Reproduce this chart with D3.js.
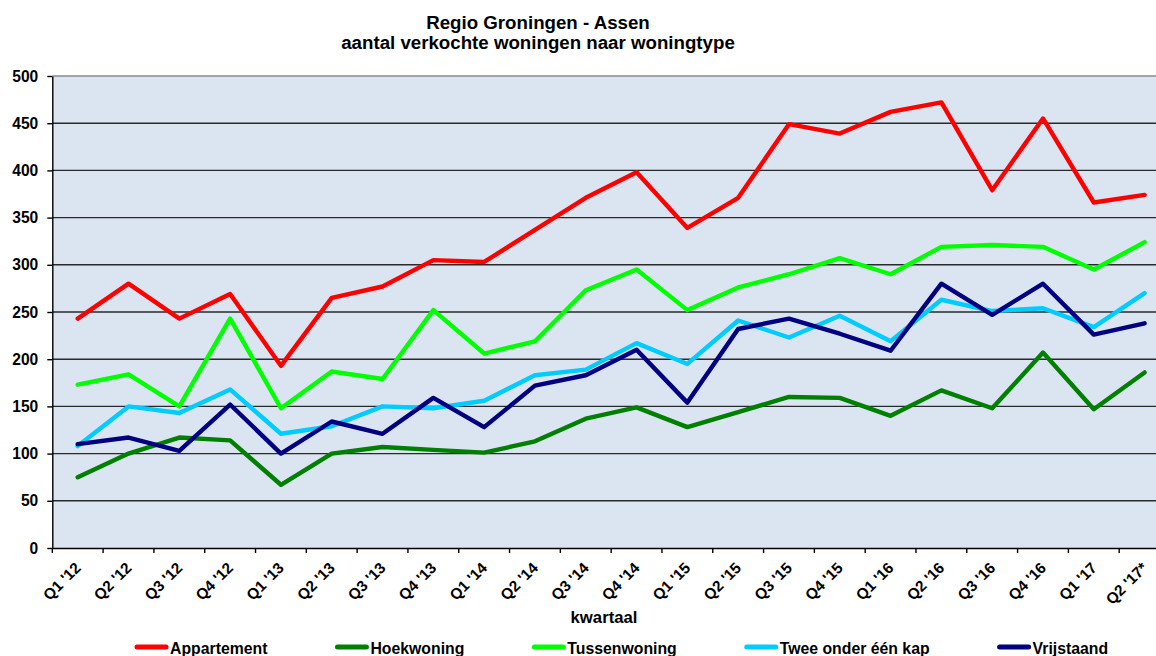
<!DOCTYPE html>
<html>
<head>
<meta charset="utf-8">
<script src="https://cdn.jsdelivr.net/npm/d3@7"></script>
<style>
    body { margin: 0; background: #fff; }
    text { font-family: Arial, "Liberation Sans", sans-serif; font-weight: bold; fill: #000; }
</style>
</head>
<body>
<div id="chart"></div>
<script>
const quarters = ["Q1 '12", "Q2 '12", "Q3 '12", "Q4 '12", "Q1 '13", "Q2 '13", "Q3 '13", "Q4 '13",
    "Q1 '14", "Q2 '14", "Q3 '14", "Q4 '14", "Q1 '15", "Q2 '15", "Q3 '15", "Q4 '15",
    "Q1 '16", "Q2 '16", "Q3 '16", "Q4 '16", "Q1 '17", "Q2 '17*"];

const appartement = [243, 280, 243, 269, 193, 265, 277, 305, 303, 337, 371, 398, 339, 371, 449, 439, 462, 472, 379, 455, 366, 374];
const hoekwoning = [75, 100, 117, 114, 67, 100, 107, 104, 101, 113, 137, 149, 128, 144, 160, 159, 140, 167, 148, 207, 147, 186];
const tussenwoning = [173, 184, 150, 243, 148, 187, 179, 252, 206, 219, 273, 295, 252, 276, 290, 307, 290, 319, 321, 319, 295, 324];
const tweeOnderEenKap = [108, 150, 143, 168, 121, 129, 150, 148, 156, 183, 189, 217, 195, 241, 223, 246, 219, 263, 251, 254, 234, 270];
const vrijstaand = [110, 117, 103, 152, 100, 134, 121, 159, 128, 172, 183, 210, 154, 232, 243, 227, 209, 280, 247, 280, 226, 238];

const seriesNames = ["Appartement", "Hoekwoning", "Tussenwoning", "Twee onder één kap", "Vrijstaand"];
const seriesValues = [appartement, hoekwoning, tussenwoning, tweeOnderEenKap, vrijstaand];
const seriesColors = ["#ff0000", "#008000", "#00ff00", "#00ccff", "#000080"];

const yTicks = [0, 50, 100, 150, 200, 250, 300, 350, 400, 450, 500];

const width = 1156;
const height = 656;
const plot = { left: 52.3, right: 1170, top: 76, bottom: 548 };

const svg = d3.select("#chart")
    .append("svg")
    .attr("width", width)
    .attr("height", height);

const x = d3.scaleBand()
    .domain(quarters)
    .range([plot.left, plot.right])
    .padding(0);

const y = d3.scaleLinear()
    .domain([0, 500])
    .range([plot.bottom, plot.top]);

// plot area
svg.append("rect")
    .attr("x", plot.left)
    .attr("y", plot.top)
    .attr("width", plot.right - plot.left)
    .attr("height", plot.bottom - plot.top)
    .attr("fill", "#dbe5f1");

// gridlines
svg.append("g")
    .selectAll("line")
    .data(yTicks.filter(d => d > 0))
    .join("line")
    .attr("x1", plot.left)
    .attr("x2", plot.right)
    .attr("y1", d => y(d))
    .attr("y2", d => y(d))
    .attr("stroke", d => d === 500 ? "#8a8a8a" : "#2a2a2a")
    .attr("stroke-width", 1.4);

// y axis
svg.append("g")
    .attr("transform", `translate(${plot.left},0)`)
    .call(d3.axisLeft(y).tickValues(yTicks).tickSize(5).tickPadding(9).tickSizeOuter(0))
    .call(g => g.select(".domain").attr("stroke", "#000").attr("stroke-width", 1.4))
    .call(g => g.selectAll(".tick line").attr("stroke", "#000").attr("stroke-width", 1.4))
    .call(g => g.selectAll(".tick text")
        .attr("font-size", 15.6)
        .attr("font-family", "Arial, 'Liberation Sans', sans-serif")
        .attr("font-weight", "bold")
        .attr("fill", "#000"));

// x axis, ticks sit between the categories
const bw = x.bandwidth();
svg.append("g")
    .attr("transform", `translate(0,${plot.bottom})`)
    .call(d3.axisBottom(x).tickSize(5).tickSizeOuter(0))
    .call(g => g.select(".domain").attr("stroke", "#000").attr("stroke-width", 1.4))
    .call(g => g.selectAll(".tick line")
        .attr("x1", -bw / 2)
        .attr("x2", -bw / 2)
        .attr("stroke", "#000")
        .attr("stroke-width", 1.4))
    .call(g => g.selectAll(".tick text")
        .attr("x", 0)
        .attr("y", 0)
        .attr("dy", 0)
        .attr("text-anchor", "end")
        .attr("transform", "translate(4,21) rotate(-45)")
        .attr("font-size", 15.4)
        .attr("font-family", "Arial, 'Liberation Sans', sans-serif")
        .attr("font-weight", "bold")
        .attr("fill", "#000"));

// lines
const line = d3.line()
    .x((d, i) => x(quarters[i]) + bw / 2)
    .y(d => y(d));

svg.append("g")
    .selectAll("path")
    .data(seriesValues)
    .join("path")
    .attr("d", d => line(d))
    .attr("fill", "none")
    .attr("stroke", (d, i) => seriesColors[i])
    .attr("stroke-width", 4.4)
    .attr("stroke-linejoin", "round")
    .attr("stroke-linecap", "round");

// titles
svg.append("text")
    .attr("x", 538)
    .attr("y", 29)
    .attr("text-anchor", "middle")
    .attr("font-size", 18.7)
    .text("Regio Groningen - Assen");

svg.append("text")
    .attr("x", 538)
    .attr("y", 49)
    .attr("text-anchor", "middle")
    .attr("font-size", 18.7)
    .text("aantal verkochte woningen naar woningtype");

svg.append("text")
    .attr("x", 604)
    .attr("y", 623)
    .attr("text-anchor", "middle")
    .attr("font-size", 16.7)
    .text("kwartaal");

// legend
const legend = svg.append("g");
let lx = 135;
seriesNames.forEach((name, i) => {
    legend.append("line")
        .attr("x1", lx + 2)
        .attr("x2", lx + 31)
        .attr("y1", 647)
        .attr("y2", 647)
        .attr("stroke", seriesColors[i])
        .attr("stroke-width", 5)
        .attr("stroke-linecap", "round");
    const t = legend.append("text")
        .attr("x", lx + 35)
        .attr("y", 654)
        .attr("font-size", 15.8)
        .text(name);
    lx += 35 + t.node().getComputedTextLength() + 68;
});
</script>
</body>
</html>
